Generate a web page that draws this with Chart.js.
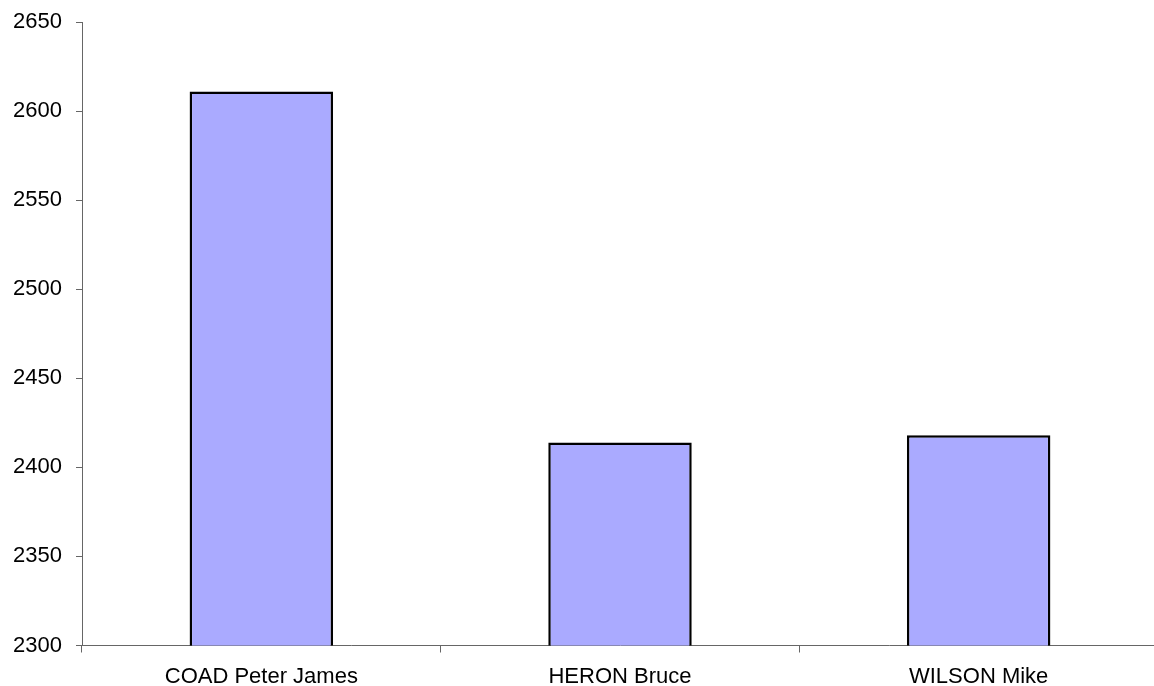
<!DOCTYPE html>
<html>
<head>
<meta charset="utf-8">
<script src="https://cdn.jsdelivr.net/npm/chart.js@4/dist/chart.umd.min.js"></script>
<style>
    html, body { margin: 0; padding: 0; background: #fff; overflow: hidden; }
    #wrap { width: 1158px; height: 686px; }
</style>
</head>
<body>
<div id="wrap"><canvas id="chart" width="1158" height="686"></canvas></div>
<script>
// Données
const categories = ['COAD Peter James', 'HERON Bruce', 'WILSON Mike'];
const values = [2611, 2414, 2418];
const yMin = 2300;
const yMax = 2650;
const yStep = 50;

const axisColor = '#666666';
const labelFont = { family: 'Arial, "Liberation Sans", sans-serif', size: 22 };

new Chart(document.getElementById('chart').getContext('2d'), {
    type: 'bar',
    data: {
        labels: categories,
        datasets: [{
            data: values,
            backgroundColor: '#AAAAFF',
            borderColor: '#000000',
            borderWidth: 2.5,
            borderSkipped: false,
            barPercentage: 0.4,
            categoryPercentage: 1.0
        }]
    },
    options: {
        responsive: false,
        animation: false,
        devicePixelRatio: 1,
        layout: { padding: { top: 22, right: 0, bottom: 0, left: 0 } },
        plugins: {
            legend: { display: false },
            tooltip: { enabled: false }
        },
        scales: {
            x: {
                grid: {
                    drawOnChartArea: false,
                    drawTicks: true,
                    tickLength: 7,
                    color: axisColor,
                    offset: true
                },
                border: { color: axisColor, width: 1 },
                ticks: { color: '#000', font: labelFont, padding: 11, maxRotation: 0 },
                afterFit: (scale) => {
                    scale.height = 40.5;
                    scale.paddingLeft = 0;
                    scale.paddingRight = 0;
                }
            },
            y: {
                min: yMin,
                max: yMax,
                grid: {
                    drawOnChartArea: false,
                    drawTicks: true,
                    tickLength: 6,
                    color: axisColor
                },
                border: { color: axisColor, width: 1 },
                ticks: {
                    stepSize: yStep,
                    color: '#000',
                    font: labelFont,
                    padding: 14,
                    callback: (v) => String(v) // pas de séparateur de milliers
                },
                afterFit: (scale) => {
                    scale.width = 82;
                    scale.paddingTop = 0;
                    scale.paddingBottom = 0;
                }
            }
        }
    }
});
</script>
</body>
</html>
